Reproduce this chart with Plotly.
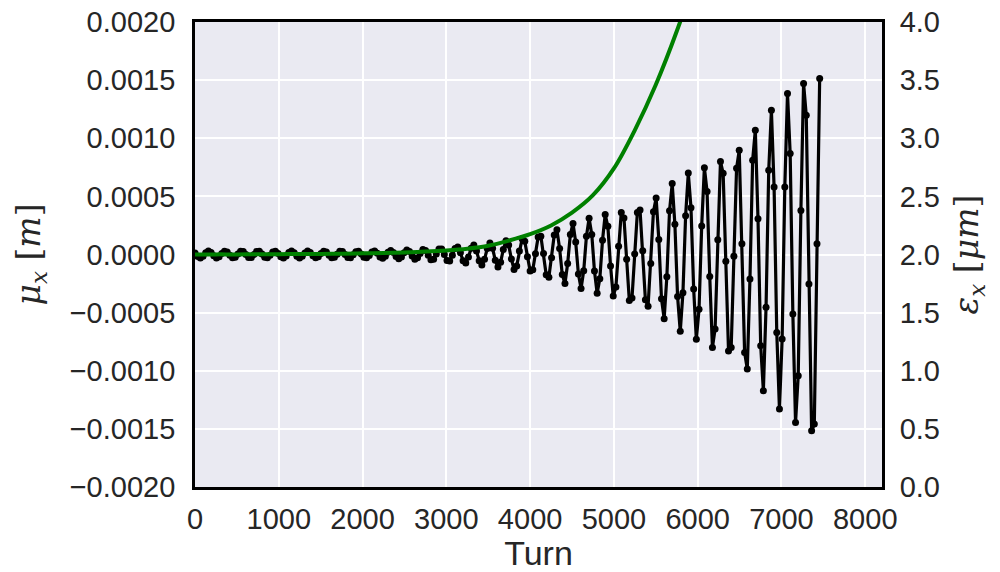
import plotly.graph_objects as go

# Turn numbers at which the centroid was sampled (every 32 turns)
turns = list(range(0, 7457, 32))

# Horizontal centroid mu_x, in micrometres
mu_x_um = [
    13, -16, -30, -15, 14, 30,
    18, -11, -30, -20, 9, 29,
    22, -6, -28, -23, 4, 27,
    25, -1, -26, -26, -1, 25,
    27, 4, -23, -28, -7, 21,
    29, 9, -20, -30, -12, 18,
    30, 14, -15, -30, -16, 13,
    30, 18, -11, -29, -20, 8,
    29, 22, -6, -28, -24, 3,
    27, 25, 0, -26, -27, -2,
    24, 28, 5, -23, -29, -8,
    22, 31, 11, -21, -33, -14,
    19, 35, 17, -18, -37, -21,
    15, 38, 25, -13, -40, -29,
    10, 42, 35, -7, -45, -41,
    4, 48, 48, 1, -51, -56,
    -7, 52, 64, 14, -54, -73,
    -22, 54, 82, 31, -53, -90,
    -41, 51, 99, 53, -49, -108,
    -66, 44, 118, 81, -38, -128,
    -98, 30, 135, 114, -19, -141,
    -131, 7, 151, 158, 9, -175,
    -195, -28, 168, 213, 51, -173,
    -250, -78, 172, 267, 107, -167,
    -292, -139, 156, 312, 173, -142,
    -333, -208, 122, 344, 242, -99,
    -357, -279, 71, 362, 314, -40,
    -395, -375, 5, 362, 383, 33,
    -390, -445, -77, 368, 485, 130,
    -381, -552, -192, 376, 610, 260,
    -362, -661, -330, 334, 701, 403,
    -296, -730, -472, 246, 747, 541,
    -190, -800, -640, 127, 800, 700,
    -59, -830, -800, -15, 741,
    896, 92, -842, -985, -210, 810, 1069, 308, -784, -1172, -454, 724,
    1241, 580, -670, -1330, -727, 580, 1385, 868, -511, -1445, -1043, 379,
    1471, 1198, -253, -1517, -1459, 92, 1514,
]

# Emittance eps_x [um]
eps_turns = [0, 250, 500, 750, 1000, 1250, 1500, 1750, 2000, 2250, 2500, 2750,
             3000, 3250, 3500, 3750, 4000, 4250, 4500, 4750, 5000, 5250, 5500,
             5750, 6000, 6250]
eps_um = [2.000, 2.001, 2.001, 2.002, 2.003, 2.004, 2.005, 2.007, 2.010, 2.013,
          2.018, 2.025, 2.035, 2.050, 2.075, 2.120, 2.175, 2.250, 2.360, 2.510,
          2.740, 3.070, 3.460, 3.920, 4.450, 5.050]

x_ticks = [0, 1000, 2000, 3000, 4000, 5000, 6000, 7000, 8000]
mu_ticks = [-0.002, -0.0015, -0.001, -0.0005, 0.0, 0.0005, 0.001, 0.0015, 0.002]
eps_ticks = [0.0, 0.5, 1.0, 1.5, 2.0, 2.5, 3.0, 3.5, 4.0]

mu_x = [v * 1e-6 for v in mu_x_um]

tick_font = dict(family="Liberation Sans, Arial, sans-serif", size=29, color="#262626")
title_font_serif = dict(family="DejaVu Serif, serif", size=33, color="#262626")

fig = go.Figure()
fig.add_trace(go.Scatter(
    x=turns, y=mu_x, mode="lines+markers",
    line=dict(color="black", width=3.2),
    marker=dict(color="black", size=7),
    yaxis="y", showlegend=False,
))
fig.add_trace(go.Scatter(
    x=eps_turns, y=eps_um, mode="lines",
    line=dict(color="green", width=4, shape="spline"),
    yaxis="y2", showlegend=False,
))

fig.update_layout(
    width=1000, height=572,
    margin=dict(l=195, r=118, t=22, b=85, pad=0, autoexpand=False),
    paper_bgcolor="white",
    plot_bgcolor="#EAEAF2",
    xaxis=dict(
        range=[0, 8200], tickvals=x_ticks, ticktext=[str(v) for v in x_ticks],
        showgrid=True, gridcolor="white", gridwidth=1.8,
        zeroline=False, showline=True, linecolor="black", linewidth=2.8,
        mirror=True, ticks="", tickfont=tick_font, ticklabelstandoff=4,
        automargin=False,
        title=dict(text="Turn", font=dict(family="Liberation Sans, Arial, sans-serif",
                                           size=34, color="#262626"), standoff=9),
    ),
    yaxis=dict(
        range=[-0.002, 0.002], tickvals=mu_ticks, tickformat=".4f",
        showgrid=True, gridcolor="white", gridwidth=1.8,
        zeroline=False, showline=True, linecolor="black", linewidth=2.8,
        ticks="", tickfont=tick_font, ticklabelstandoff=11,
        automargin=False,
        title=dict(text="<i>μ</i><sub><i>x</i></sub> [<i>m</i>]",
                   font=title_font_serif, standoff=20),
    ),
    yaxis2=dict(
        range=[0, 4], tickvals=eps_ticks, tickformat=".1f",
        overlaying="y", side="right",
        showgrid=False, zeroline=False, showline=True, linecolor="black",
        linewidth=2.8, ticks="", tickfont=tick_font, ticklabelstandoff=9,
        automargin=False,
        title=dict(text="<i>ε</i><sub><i>x</i></sub> [<i>μm</i>]",
                   font=title_font_serif, standoff=16),
    ),
)

fig.write_html("out.html")
